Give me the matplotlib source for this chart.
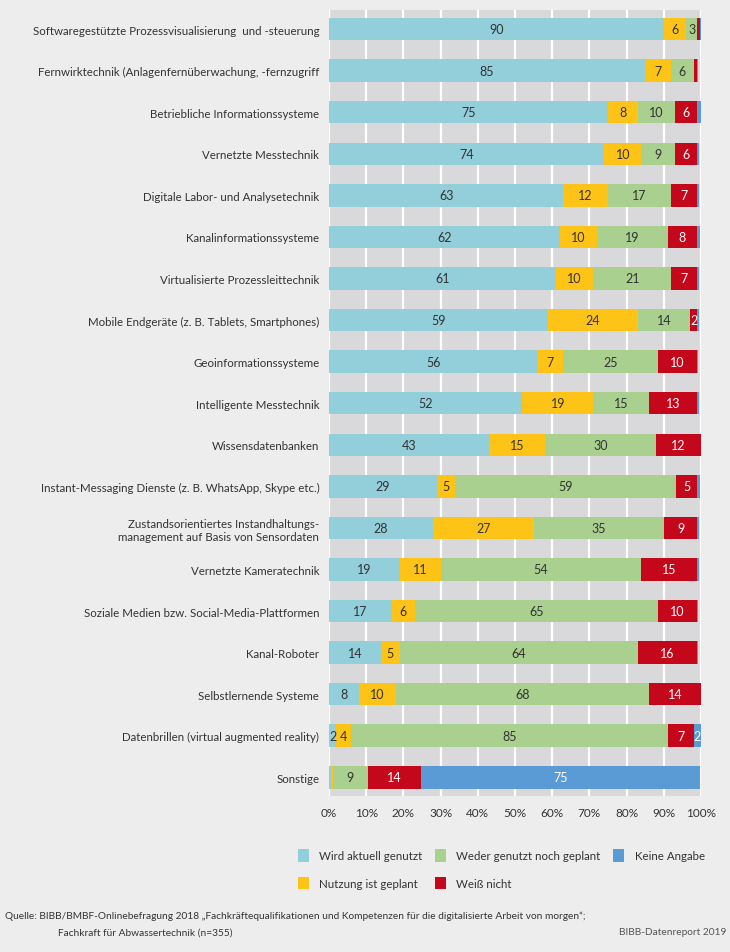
import matplotlib
matplotlib.use("Agg")
import matplotlib.pyplot as plt
import numpy as np
from matplotlib.patches import Patch

plt.rcParams['font.family'] = ['Lato', 'DejaVu Sans']

categories = [
    "Softwaregestützte Prozessvisualisierung  und -steuerung",
    "Fernwirktechnik (Anlagenfernüberwachung, -fernzugriff",
    "Betriebliche Informationssysteme",
    "Vernetzte Messtechnik",
    "Digitale Labor- und Analysetechnik",
    "Kanalinformationssysteme",
    "Virtualisierte Prozessleittechnik",
    "Mobile Endgeräte (z. B. Tablets, Smartphones)",
    "Geoinformationssysteme",
    "Intelligente Messtechnik",
    "Wissensdatenbanken",
    "Instant-Messaging Dienste (z. B. WhatsApp, Skype etc.)",
    "Zustandsorientiertes Instandhaltungs-\nmanagement auf Basis von Sensordaten",
    "Vernetzte Kameratechnik",
    "Soziale Medien bzw. Social-Media-Plattformen",
    "Kanal-Roboter",
    "Selbstlernende Systeme",
    "Datenbrillen (virtual augmented reality)",
    "Sonstige",
]

genutzt = [90, 85, 75, 74, 63, 62, 61, 59, 56, 52, 43, 29, 28, 19, 17, 14, 8, 2, 0.5]
geplant = [6, 7, 8, 10, 12, 10, 10, 24, 7, 19, 15, 5, 27, 11, 6, 5, 10, 4, 0.5]
weder = [3, 6, 10, 9, 17, 19, 21, 14, 25.4, 15, 30, 59.4, 35, 54, 65.4, 64, 68, 85, 9.4]
weiss_nicht = [0.8, 0.8, 6, 6, 7, 8, 7, 2, 10.4, 13, 12, 5.4, 9, 15, 10.4, 16, 14, 7, 14.4]
keine_angabe = [0.3, 0.3, 1, 0.4, 0.4, 0.8, 0.5, 0.5, 0.5, 0.4, 0.3, 0.8, 0.5, 0.4, 0.5, 0.3, 0.3, 2, 75]

series = [
    ("Wird aktuell genutzt", genutzt, "#93cedb", "#333333"),
    ("Nutzung ist geplant", geplant, "#fdc316", "#333333"),
    ("Weder genutzt noch geplant", weder, "#a9d08e", "#333333"),
    ("Weiß nicht", weiss_nicht, "#c4071b", "white"),
    ("Keine Angabe", keine_angabe, "#5b9bd5", "white"),
]

fig = plt.figure(figsize=(7.3, 9.53), dpi=100, facecolor="#ededed")
ax = fig.add_axes([0.4507, 0.1637, 0.5096, 0.8248])
ax.set_facecolor("#d9d9dc")

y = np.arange(len(categories))
left = np.zeros(len(categories))
for name, vals, color, tcolor in series:
    vals = np.array(vals, dtype=float)
    ax.barh(y, vals, left=left, height=0.54, color=color, zorder=3)
    for yi, v, l in zip(y, vals, left):
        if v >= 1.5:
            ax.text(l + v / 2, yi, f"{round(v)}", ha="center", va="center",
                    fontsize=9, color=tcolor, zorder=4)
    left += vals

ax.set_xlim(0, 100)
ax.set_ylim(len(categories) - 0.55, -0.46)
ax.set_xticks(np.arange(0, 101, 10))
ax.set_xticklabels([f"{t}%" for t in range(0, 101, 10)], fontsize=8.5, color="#333333")
ax.set_yticks(y)
ax.set_yticklabels(categories, fontsize=8.3, color="#333333")
ax.tick_params(length=0, pad=7)
ax.tick_params(axis="x", pad=8)
ax.grid(axis="x", color="white", linewidth=1.6, zorder=1)
for s in ax.spines.values():
    s.set_visible(False)

handles = [Patch(facecolor=c, label=n) for n, _, c, _ in series]
fig.legend(handles=handles, ncol=3, loc="upper left",
           bbox_to_anchor=(0.408, 0.108), frameon=False, fontsize=8.3,
           handlelength=0.95, handleheight=1.3, columnspacing=1.1,
           labelspacing=1.3, handletextpad=0.9, labelcolor="#333333",
           borderpad=0, borderaxespad=0)

fig.text(0.007, 0.039, "Quelle: BIBB/BMBF-Onlinebefragung 2018 \u201eFachkräftequalifikationen und Kompetenzen für die digitalisierte Arbeit von morgen\u201c;",
         fontsize=7.3, color="#333333", va="center")
fig.text(0.08, 0.021, "Fachkraft für Abwassertechnik (n=355)",
         fontsize=7.3, color="#333333", va="center")
fig.text(0.995, 0.021, "BIBB-Datenreport 2019", fontsize=7.3, color="#555555",
         va="center", ha="right")

fig.savefig("out.png", dpi=100, facecolor=fig.get_facecolor())
